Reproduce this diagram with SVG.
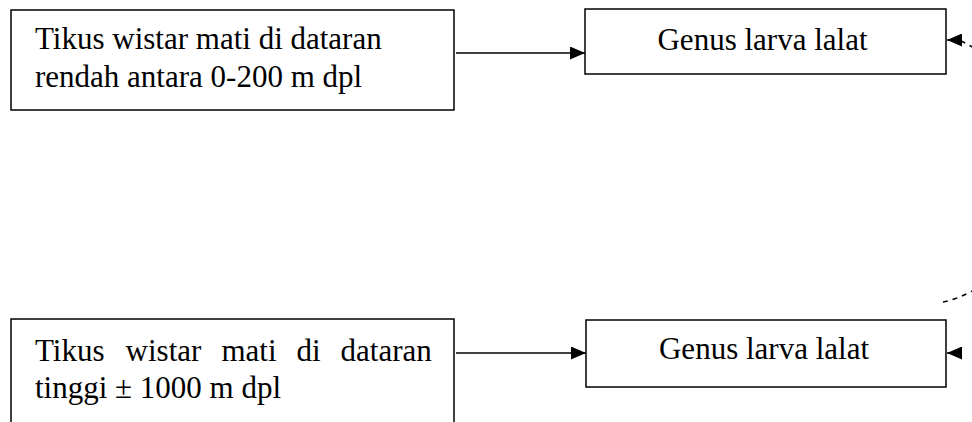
<svg xmlns="http://www.w3.org/2000/svg" width="972" height="422" viewBox="0 0 972 422">
<defs>
<style>
.box{fill:#fff;stroke:#000;stroke-width:1.5}
.t{font-family:"Liberation Serif","Times New Roman",serif;font-size:31px;fill:#000}
.c{fill:none;stroke:#000;stroke-width:1.5}
.d{fill:none;stroke:#000;stroke-width:1.5;stroke-dasharray:5 5}
</style>
<marker id="ah" markerWidth="15" markerHeight="13" refX="15" refY="6.5" orient="auto" markerUnits="userSpaceOnUse">
<path d="M0,0 L15,6.5 L0,13 Z" fill="#000"/>
</marker>
</defs>
<rect width="972" height="422" fill="#fff"/>
<g id="node-low">
<rect class="box" x="11" y="10" width="443" height="100"/>
<text class="t" x="35" y="49">Tikus wistar mati di dataran</text>
<text class="t" x="35" y="87">rendah antara 0-200 m dpl</text>
</g>
<g id="node-genus-top">
<rect class="box" x="585" y="9" width="361" height="65"/>
<text class="t" x="762.5" y="50" text-anchor="middle">Genus larva lalat</text>
</g>
<g id="node-high">
<rect class="box" x="11" y="319" width="443" height="120"/>
<text class="t" y="361"><tspan x="35">Tikus</tspan><tspan x="125.6">wistar</tspan><tspan x="221.4">mati</tspan><tspan x="296.5">di</tspan><tspan x="340.6">dataran</tspan></text>
<text class="t" x="35" y="398">tinggi ± 1000 m dpl</text>
</g>
<g id="node-genus-bottom">
<rect class="box" x="586" y="320" width="360" height="67"/>
<text class="t" x="764" y="359" text-anchor="middle">Genus larva lalat</text>
</g>
<g id="connectors">
<line class="c" x1="456" y1="53" x2="585" y2="53" marker-end="url(#ah)"/>
<line class="c" x1="456" y1="353" x2="586" y2="353" marker-end="url(#ah)"/>
<path class="c" d="M961,40 L947,40" marker-end="url(#ah)"/>
<path class="d" d="M961,41 Q967,44 974,48"/>
<path class="c" d="M961,353 L947,353" marker-end="url(#ah)"/>
<path class="d" d="M943,302 Q958,299 974,290"/>
</g>
</svg>
